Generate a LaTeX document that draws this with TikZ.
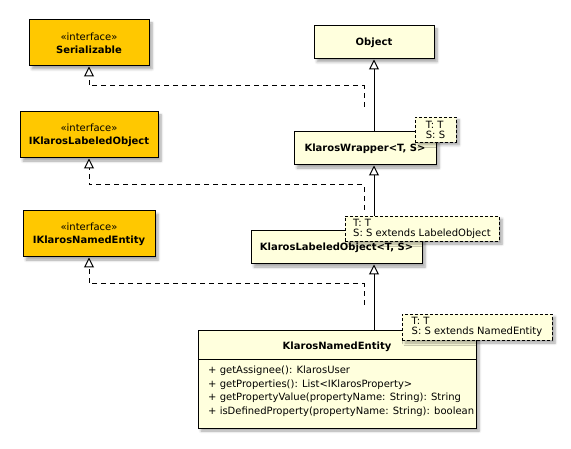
\documentclass[tikz,border=0pt]{standalone}
\usepackage{fontspec}
\setmainfont{DejaVu Sans}
\usetikzlibrary{arrows.meta,shadows.blur}
\definecolor{ifill}{HTML}{FFC800}
\definecolor{cfill}{HTML}{FFFFDD}
\tikzset{
  x=1pt, y=-1pt,
  shad/.style={blur shadow={shadow xshift=3pt, shadow yshift=-3pt, shadow blur steps=6, shadow blur radius=2.5pt, shadow opacity=35}},
  iface/.style={shad, draw=black, line width=1pt, fill=ifill, inner sep=0pt, align=center, font=\fontsize{10}{13}\selectfont, minimum height=46pt},
  cls/.style={shad, draw=black, line width=1pt, fill=cfill, inner sep=0pt, align=center, font=\fontsize{10}{13}\selectfont\bfseries, minimum height=33pt},
  note/.style={shad, draw=black, line width=0.8pt, dash pattern=on 3pt off 2pt, fill=cfill, inner sep=0pt, align=left, font=\fontsize{10}{10}\selectfont},
  ext/.style={draw=black, line width=1pt, -{Triangle[open, length=10pt, width=10pt, line width=1pt, fill=white]}},
  impl/.style={ext, dash pattern=on 5pt off 4pt},
}
\begin{document}
\begin{tikzpicture}
\useasboundingbox (0,0) rectangle (571,449);
% interfaces
\node[iface, minimum width=120pt] (ser) at (89,43) {«interface»\\\textbf{Serializable}};
\node[iface, minimum width=138pt] (ilo) at (89,135) {«interface»\\\textbf{IKlarosLabeledObject}};
\node[iface, minimum width=132pt] (ine) at (89,234) {«interface»\\\textbf{IKlarosNamedEntity}};
% classes
\node[cls, minimum width=120pt] (obj) at (374,42.5) {Object};
\node[cls, minimum width=142pt] (kw) at (365,148.5) {KlarosWrapper<T, S>};
\node[cls, minimum width=171pt] (klo) at (336.5,247.5) {KlarosLabeledObject<T, S>};
\node[shad, draw=black, line width=1pt, fill=cfill, minimum width=278pt, minimum height=97pt, inner sep=0pt] (kne) at (337,379.5) {};
\node[font=\fontsize{10}{13}\selectfont\bfseries] (kneT) at (337,346.5) {KlarosNamedEntity};
\coordinate (sepL) at (198,360);
\coordinate (sepR) at (476,360);
\draw[line width=1pt] (sepL) -- (sepR);
\node[anchor=north west, align=left, inner sep=0pt, font=\fontsize{10}{13.5}\selectfont] (meth) at (208,366) {+ getAssignee(): KlarosUser\\+ getProperties(): List<IKlarosProperty>\\+ getPropertyValue(propertyName: String): String\\+ isDefinedProperty(propertyName: String): boolean};
% junctions
\coordinate (j1) at (364,86);
\coordinate (e1) at (364,107);
\coordinate (j2) at (364,185);
\coordinate (e2) at (364,210);
\coordinate (j3) at (364,284);
\coordinate (e3) at (364,305);
% generalisations
\draw[ext] (kw.north -| obj.south) -- (obj.south);
\draw[ext] (klo.north -| obj.south) -- (kw.south -| obj.south);
\draw[ext] (kne.north -| obj.south) -- (klo.south -| obj.south);
% realisations
\draw[impl] (e1) -- (j1) -| (ser.south);
\draw[impl] (e2) -- (j2) -| (ilo.south);
\draw[impl] (e3) -- (j3) -| (ine.south);
% notes
\node[note, minimum width=41pt, minimum height=25pt] (n1) at (435.5,129.5) {T: T\\S: S};
\node[note, minimum width=154pt, minimum height=25pt] (n2) at (422,228.5) {T: T\\S: S extends LabeledObject};
\node[note, minimum width=150pt, minimum height=26pt] (n3) at (477,327) {T: T\\S: S extends NamedEntity};
\end{tikzpicture}
\end{document}
